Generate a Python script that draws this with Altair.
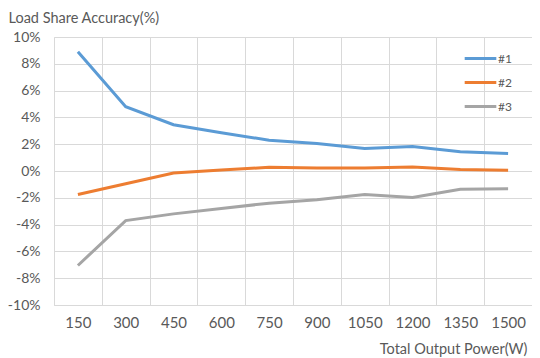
import altair as alt
import pandas as pd

powers = ["150", "300", "450", "600", "750", "900", "1050", "1200", "1350", "1500"]
s1 = [8.9, 4.8, 3.45, 2.85, 2.3, 2.05, 1.68, 1.82, 1.44, 1.3]
s2 = [-1.75, -0.95, -0.15, 0.07, 0.28, 0.22, 0.22, 0.3, 0.12, 0.05]
s3 = [-7.05, -3.7, -3.2, -2.8, -2.4, -2.15, -1.75, -1.97, -1.37, -1.32]
series_names = ["#1", "#2", "#3"]
colors = ["#5B9BD5", "#ED7D31", "#A5A5A5"]
y_ticks = [-10, -8, -6, -4, -2, 0, 2, 4, 6, 8, 10]

rows = []
for name, vals in zip(series_names, [s1, s2, s3]):
    for p, v in zip(powers, vals):
        rows.append({"power": p, "value": v, "series": name})
df = pd.DataFrame(rows)

FONT = "Lato"
TXT = "#595959"
GRID = "#d9d9d9"

chart = alt.Chart(df).mark_line(strokeWidth=3).encode(
    x=alt.X(
        "power:O",
        sort=powers,
        scale=alt.Scale(type="band", paddingInner=0, paddingOuter=0),
        axis=alt.Axis(
            title="Total Output Power(W)",
            tickBand="extent",
            ticks=False,
            labelAngle=0,
            labelPadding=10,
            labelFont=FONT,
            labelFontSize=15,
            labelColor=TXT,
            titleFont=FONT,
            titleFontSize=14.5,
            titleColor=TXT,
            titleFontWeight="normal",
            titleX=473,
            titleY=48,
            titleAlign="right",
            titleBaseline="alphabetic",
            grid=True,
            gridColor=GRID,
            domainColor=GRID,
        ),
    ),
    y=alt.Y(
        "value:Q",
        scale=alt.Scale(domain=[-10, 10], nice=False),
        axis=alt.Axis(
            values=y_ticks,
            labelExpr="datum.value + '%'",
            title="Load Share Accuracy(%)",
            ticks=False,
            labelPadding=14,
            labelFont=FONT,
            labelFontSize=14,
            labelColor=TXT,
            titleFont=FONT,
            titleFontSize=14.5,
            titleColor=TXT,
            titleFontWeight="normal",
            titleAngle=0,
            titleX=-46,
            titleY=-15,
            titleAlign="left",
            titleBaseline="alphabetic",
            gridColor=GRID,
            domainColor=GRID,
        ),
    ),
    color=alt.Color(
        "series:N",
        scale=alt.Scale(domain=series_names, range=colors),
        legend=alt.Legend(
            title=None,
            orient="none",
            legendX=409,
            legendY=4,
            symbolType="stroke",
            symbolSize=1000,
            symbolStrokeWidth=3,
            labelFont=FONT,
            labelFontSize=12,
            labelColor=TXT,
            labelOffset=0,
            rowPadding=-6,
        ),
    ),
).properties(
    width=478,
    height=268,
    padding={"left": 46, "top": 29, "right": 0, "bottom": 52},
    autosize=alt.AutoSizeParams(type="none"),
).configure_view(strokeWidth=0)

chart.save("out.html", embed_options={"renderer": "svg", "actions": False})
